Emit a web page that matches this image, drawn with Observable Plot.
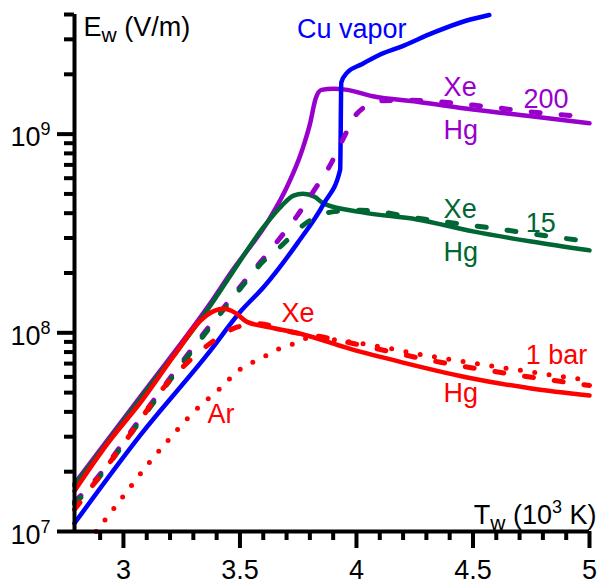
<!DOCTYPE html>
<html>
<head>
<meta charset="utf-8">
<script src="https://cdn.jsdelivr.net/npm/d3@7"></script>
<script src="https://cdn.jsdelivr.net/npm/@observablehq/plot@0.6"></script>
<style>
  html, body { margin: 0; padding: 0; background: #fff; }
  #chart svg { display: block; }
</style>
</head>
<body>
<div id="chart"></div>
<script>
// ---- Data (T_w in 10^3 K, E_w in V/m) ----
const cuT = [2.79, 3.076, 3.362, 3.505, 3.602, 3.746, 3.86, 3.93, 3.935, 3.96, 4.02, 4.10, 4.19, 4.33, 4.47, 4.57];
const cuE = [1.10e7, 3.09e7, 7.83e7, 1.29e8, 1.70e8, 2.82e8, 4.47e8, 6.61e8, 1.82e9, 2.04e9, 2.24e9, 2.51e9, 2.75e9, 3.24e9, 3.72e9, 3.98e9];

const hg200T = [2.79, 3.08, 3.38, 3.46, 3.63, 3.70, 3.767, 3.80, 3.825, 3.85, 3.90, 3.96, 4.07, 4.26, 4.5, 4.75, 5.0];
const hg200E = [1.74e7, 4.90e7, 1.45e8, 2.0e8, 3.80e8, 5.37e8, 8.32e8, 1.12e9, 1.51e9, 1.67e9, 1.69e9, 1.67e9, 1.55e9, 1.455e9, 1.33e9, 1.23e9, 1.135e9];

const xe200T = [2.79, 2.88, 3.03, 3.18, 3.34, 3.50, 3.66, 3.74, 3.82, 3.89, 3.94, 4.0, 4.04, 4.10, 4.23, 4.5, 4.76, 5.0];
const xe200E = [1.41e7, 1.82e7, 3.16e7, 5.50e7, 9.77e7, 1.70e8, 2.88e8, 3.80e8, 5.25e8, 7.08e8, 9.33e8, 1.26e9, 1.38e9, 1.47e9, 1.48e9, 1.40e9, 1.29e9, 1.22e9];

const hg15T = [2.79, 3.08, 3.38, 3.46, 3.60, 3.68, 3.73, 3.77, 3.82, 3.86, 4.02, 4.26, 4.5, 4.75, 5.0];
const hg15E = [1.70e7, 4.79e7, 1.41e8, 1.95e8, 3.39e8, 4.37e8, 4.90e8, 5.01e8, 4.84e8, 4.47e8, 4.05e8, 3.72e8, 3.24e8, 2.88e8, 2.60e8];

const xe15T = [2.79, 2.88, 3.03, 3.18, 3.34, 3.50, 3.60, 3.67, 3.77, 3.83, 3.89, 4.02, 4.26, 4.65, 4.90, 5.0];
const xe15E = [1.38e7, 1.78e7, 3.09e7, 5.37e7, 9.55e7, 1.66e8, 2.29e8, 2.69e8, 3.47e8, 3.85e8, 4.05e8, 4.14e8, 3.78e8, 3.28e8, 2.98e8, 2.88e8];

const hg1T = [2.79, 2.93, 3.08, 3.22, 3.33, 3.39, 3.43, 3.48, 3.53, 3.62, 3.76, 3.97, 4.2, 4.47, 4.75, 5.0];
const hg1E = [1.60e7, 2.75e7, 4.57e7, 7.76e7, 1.15e8, 1.29e8, 1.32e8, 1.26e8, 1.135e8, 1.07e8, 9.89e7, 8.32e7, 7.08e7, 5.98e7, 5.25e7, 4.84e7];

const xe1T = [2.79, 2.88, 3.03, 3.18, 3.27, 3.37, 3.49, 3.58, 3.72, 3.85, 3.97, 4.36, 4.62, 5.0];
const xe1E = [1.29e7, 1.78e7, 3.09e7, 5.43e7, 7.00e7, 8.81e7, 1.07e8, 1.11e8, 1.01e8, 9.55e7, 8.91e7, 7.11e7, 6.31e7, 5.43e7];

const ar1T = [2.883, 3.0, 3.1, 3.2, 3.3, 3.41, 3.51, 3.59, 3.65, 3.72, 3.80, 4.0, 4.30, 4.66, 5.0];
const ar1E = [1.00e7, 1.51e7, 2.14e7, 2.95e7, 3.98e7, 5.19e7, 6.68e7, 7.41e7, 8.13e7, 8.71e7, 9.44e7, 8.91e7, 7.69e7, 6.59e7, 5.75e7];

// ---- Ticks and labels ----
const xMajorTicks = [3, 3.5, 4, 4.5, 5];
const xTickLabels = ["3", "3.5", "4", "4.5", "5"];
const xMinorTicks = [2.9, 3.1, 3.2, 3.3, 3.4, 3.6, 3.7, 3.8, 3.9, 4.1, 4.2, 4.3, 4.4, 4.6, 4.7, 4.8, 4.9];
const yMajorTicks = [1e7, 1e8, 1e9];
const yTickLabels = ["10^{7}", "10^{8}", "10^{9}"];
const yMinorTicks = [2e7, 3e7, 4e7, 5e7, 6e7, 7e7, 8e7, 9e7, 2e8, 3e8, 4e8, 5e8, 6e8, 7e8, 8e8, 9e8, 2e9, 3e9, 4e9];

const labelText = ["Cu vapor", "Xe", "200", "Hg", "Xe", "15", "Hg", "Xe", "1 bar", "Hg", "Ar"];
const labelT = [3.745, 4.374, 4.717, 4.374, 4.374, 4.726, 4.374, 3.678, 4.726, 4.374, 3.361];
const labelE = [3.06e9, 1.56e9, 1.36e9, 9.5e8, 3.8e8, 3.2e8, 2.31e8, 1.13e8, 7.0e7, 4.46e7, 3.5e7];
const labelGroup = ["cu", "p", "p", "p", "g", "g", "g", "r", "r", "r", "r"];

// ---- Styles ----
const COLORS = {cu: "#0000ff", p: "#9900cc", g: "#006633", r: "#ff0000"};
const FONT = "'Liberation Sans', Arial, Helvetica, sans-serif";

const series = [
  {T: hg200T, E: hg200E, c: "p", kind: "solid"},
  {T: hg15T, E: hg15E, c: "g", kind: "solid"},
  {T: cuT, E: cuE, c: "cu", kind: "solid"},
  {T: xe200T, E: xe200E, c: "p", kind: "dash"},
  {T: xe15T, E: xe15E, c: "g", kind: "dash"},
  {T: hg1T, E: hg1E, c: "r", kind: "solid"},
  {T: xe1T, E: xe1E, c: "r", kind: "dash"},
  {T: ar1T, E: ar1E, c: "r", kind: "dot"}
];

const lineMarks = series.map(s => {
  const rows = s.T.map((t, i) => ({T: t, E: s.E[i]}));
  const opts = {x: "T", y: "E", stroke: COLORS[s.c], curve: "monotone-x", strokeLinecap: "round", strokeLinejoin: "round"};
  if (s.kind === "solid") { opts.strokeWidth = 4.5; }
  if (s.kind === "dash") { opts.strokeWidth = 5; opts.strokeDasharray = "9,21"; }
  if (s.kind === "dot") { opts.strokeWidth = 5; opts.strokeDasharray = "0,14.5"; }
  return Plot.line(rows, opts);
});

const labelRows = labelText.map((t, i) => ({text: t, T: labelT[i], E: labelE[i], g: labelGroup[i]}));
const labelMarks = Object.keys(COLORS).map(g => Plot.text(labelRows.filter(d => d.g === g), {
  x: "T", y: "E", text: "text", fill: COLORS[g], textAnchor: "start", lineAnchor: "bottom", fontSize: 27
}));

const chart = Plot.plot({
  width: 597,
  height: 584,
  marginLeft: 74,
  marginRight: 8,
  marginTop: 14,
  marginBottom: 53,
  style: {fontFamily: FONT, fontSize: "27px", background: "#fff", color: "#000", overflow: "visible"},
  x: {domain: [2.79, 5], label: null},
  y: {type: "log", domain: [1e7, 4e9], label: null},
  marks: [
    ...lineMarks,
    Plot.axisX({ticks: xMinorTicks, tickSize: 9, strokeWidth: 4, tickFormat: () => "", label: null}),
    Plot.axisX({ticks: xMajorTicks, tickSize: 17, strokeWidth: 4, tickFormat: () => "", label: null}),
    Plot.axisY({ticks: yMinorTicks, tickSize: 10, strokeWidth: 4, tickFormat: () => "", label: null}),
    Plot.axisY({ticks: yMajorTicks, tickSize: 17, strokeWidth: 4, tickFormat: () => "", label: null}),
    Plot.ruleX([2.79], {strokeWidth: 4, stroke: "#000"}),
    Plot.ruleY([1e7], {strokeWidth: 4, stroke: "#000"}),
    Plot.text(xMajorTicks, {x: d => d, frameAnchor: "bottom", text: (d, i) => xTickLabels[i],
      textAnchor: "middle", lineAnchor: "bottom", dy: 47, fontSize: 27, fill: "#000"}),
    Plot.text(yMajorTicks, {y: d => d, frameAnchor: "left", text: (d, i) => yTickLabels[i],
      textAnchor: "end", lineAnchor: "bottom", dx: -24, dy: 12, fontSize: 27, fill: "#000"}),
    Plot.text(["E_{w} (V/m)"], {frameAnchor: "top-left", textAnchor: "start", lineAnchor: "bottom",
      dx: 9, dy: 21, fontSize: 27, fill: "#000"}),
    Plot.text(["T_{w} (10^{3} K)"], {frameAnchor: "bottom-right", textAnchor: "end", lineAnchor: "bottom",
      dx: 7, dy: -8, fontSize: 27, fill: "#000"}),
    ...labelMarks
  ]
});

// Turn ^{..} / _{..} into real superscript / subscript tspans
function richify(svg) {
  const ns = "http://www.w3.org/2000/svg";
  const SUP = {size: 18, shift: 11};
  const SUB = {size: 21, shift: 6};
  svg.querySelectorAll("text").forEach(t => {
    const s = t.textContent;
    if (!/[\^_]\{/.test(s)) return;
    t.textContent = "";
    const add = (str, size, dy) => {
      const ts = document.createElementNS(ns, "tspan");
      ts.textContent = str;
      if (size) ts.setAttribute("font-size", size);
      if (dy) ts.setAttribute("dy", dy);
      t.appendChild(ts);
    };
    const re = /([\^_])\{([^}]*)\}/g;
    let last = 0, m, shift = 0;
    while ((m = re.exec(s))) {
      if (m.index > last) { add(s.slice(last, m.index), null, -shift); shift = 0; }
      const cfg = m[1] === "^" ? SUP : SUB;
      const d = m[1] === "^" ? -cfg.shift : cfg.shift;
      add(m[2], cfg.size, d - shift);
      shift = d;
      last = re.lastIndex;
    }
    if (last < s.length) add(s.slice(last), null, -shift);
  });
}
richify(chart);
document.getElementById("chart").appendChild(chart);
</script>
</body>
</html>
